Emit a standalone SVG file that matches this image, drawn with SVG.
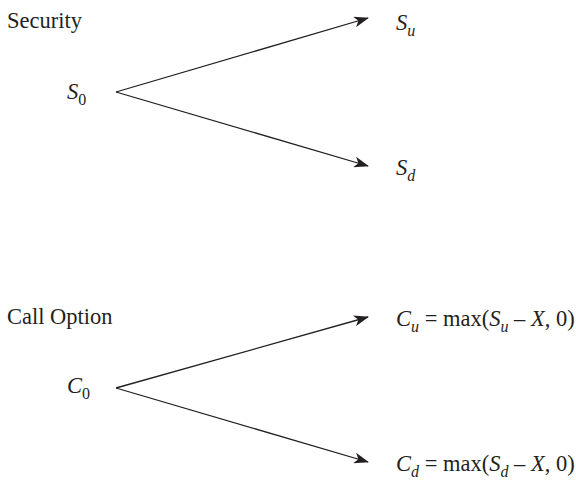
<svg xmlns="http://www.w3.org/2000/svg" width="576" height="494" viewBox="0 0 576 494">
<style>
text{font-family:"Liberation Serif","Times New Roman",serif;font-size:22.5px;fill:#231f20}
.i{font-style:italic}
.s{font-size:16px}
.e{stroke:#231f20;stroke-width:1.3;fill:none}
</style>
<defs>
<marker id="ah" viewBox="0 0 15 11" refX="14" refY="5.5" markerWidth="15" markerHeight="11" markerUnits="userSpaceOnUse" orient="auto">
<path d="M0,0 L15,5.5 L0,11 L4,5.5 Z" fill="#231f20"/>
</marker>
</defs>
<rect width="576" height="494" fill="#fff"/>
<g id="label-security"><text x="7" y="28">Security</text></g>
<g id="label-call"><text x="7" y="324">Call Option</text></g>
<g id="node-S0"><text x="67" y="99"><tspan class="i">S</tspan><tspan class="s" dy="6">0</tspan></text></g>
<g id="node-Su"><text x="396" y="30"><tspan class="i">S</tspan><tspan class="i s" dy="6">u</tspan></text></g>
<g id="node-Sd"><text x="396" y="175"><tspan class="i">S</tspan><tspan class="i s" dy="6">d</tspan></text></g>
<g id="node-C0"><text x="67" y="393"><tspan class="i">C</tspan><tspan class="s" dy="6">0</tspan></text></g>
<g id="node-Cu"><text x="396" y="326"><tspan class="i">C</tspan><tspan class="i s" dy="6">u</tspan><tspan dy="-6"> = max(</tspan><tspan class="i">S</tspan><tspan class="i s" dy="6">u</tspan><tspan dy="-6"> – </tspan><tspan class="i">X</tspan><tspan>, 0)</tspan></text></g>
<g id="node-Cd"><text x="396" y="471"><tspan class="i">C</tspan><tspan class="i s" dy="6">d</tspan><tspan dy="-6"> = max(</tspan><tspan class="i">S</tspan><tspan class="i s" dy="6">d</tspan><tspan dy="-6"> – </tspan><tspan class="i">X</tspan><tspan>, 0)</tspan></text></g>
<g id="connectors">
<line class="e" x1="116" y1="92" x2="368" y2="18" marker-end="url(#ah)"/>
<line class="e" x1="116" y1="92" x2="368" y2="166" marker-end="url(#ah)"/>
<line class="e" x1="116" y1="388" x2="368" y2="317" marker-end="url(#ah)"/>
<line class="e" x1="116" y1="388" x2="368" y2="462" marker-end="url(#ah)"/>
</g>
</svg>
